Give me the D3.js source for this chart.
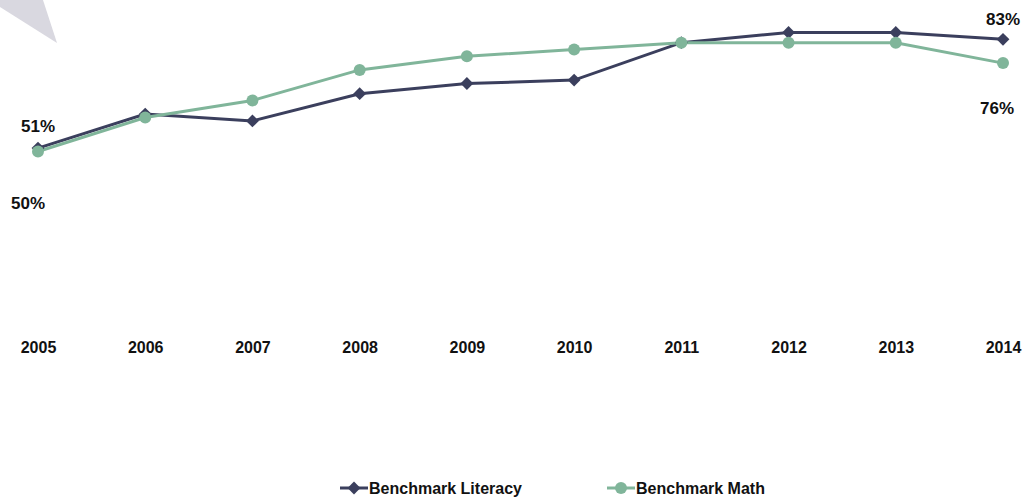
<!DOCTYPE html>
<html>
<head>
<meta charset="utf-8">
<script src="https://cdn.jsdelivr.net/npm/d3@7"></script>
<style>
  body { margin: 0; background: #fff; }
  text { font-family: "Liberation Sans", Arial, sans-serif; font-weight: bold; fill: #111; }
</style>
</head>
<body>
<div id="chart"></div>
<script>
// data
const years = ["2005","2006","2007","2008","2009","2010","2011","2012","2013","2014"];
const literacy = [51, 61, 59, 67, 70, 71, 82, 85, 85, 83];
const math = [50, 60, 65, 74, 78, 80, 82, 82, 82, 76];
const seriesNames = ["Benchmark Literacy", "Benchmark Math"];

const width = 1028, height = 497;
const litColor = "#3b3f5d", mathColor = "#80b59a";

const svg = d3.select("#chart").append("svg")
    .attr("width", width)
    .attr("height", height);

// decorative grey corner shape
svg.append("polygon")
    .attr("points", "0,0 43,0 57,43 0,7")
    .attr("fill", "#d9d8e0");

// scales
const x = d3.scalePoint()
    .domain(years)
    .range([38, 1003]);

const y = d3.scaleLinear()
    .domain([0, 100])
    .range([321.5, -18.5]);

// x axis, labels only
const xAxis = svg.append("g")
    .attr("transform", "translate(0,342)")
    .call(d3.axisBottom(x).tickSize(0).tickPadding(0));
xAxis.select(".domain").remove();
xAxis.selectAll("text")
    .attr("dy", "0.71em")
    .style("font-size", "16px")
    .style("font-family", "'Liberation Sans', Arial, sans-serif")
    .style("font-weight", "bold")
    .attr("fill", "#111");

const line = d3.line()
    .x((d, i) => x(years[i]))
    .y(d => y(d));

// literacy line
svg.append("path")
    .datum(literacy)
    .attr("fill", "none")
    .attr("stroke", litColor)
    .attr("stroke-width", 3)
    .attr("d", line);

// math line
svg.append("path")
    .datum(math)
    .attr("fill", "none")
    .attr("stroke", mathColor)
    .attr("stroke-width", 3)
    .attr("d", line);

const diamond = d3.symbol().type(d3.symbolDiamond2).size(105);

svg.append("g").selectAll("path")
    .data(literacy)
    .enter().append("path")
    .attr("d", diamond)
    .attr("transform", (d, i) => "translate(" + x(years[i]) + "," + y(d) + ")")
    .attr("fill", litColor);

svg.append("g").selectAll("circle")
    .data(math)
    .enter().append("circle")
    .attr("cx", (d, i) => x(years[i]))
    .attr("cy", d => y(d))
    .attr("r", 6)
    .attr("fill", mathColor);

// end labels
const last = years.length - 1;
const labels = [
    {v: literacy[0], x: x(years[0]), y: y(literacy[0]) - 16},
    {v: math[0], x: x(years[0]) - 10, y: y(math[0]) + 57},
    {v: literacy[last], x: x(years[last]), y: y(literacy[last]) - 14},
    {v: math[last], x: x(years[last]) - 6, y: y(math[last]) + 51}
];
svg.append("g").selectAll("text")
    .data(labels)
    .enter().append("text")
    .attr("x", d => d.x)
    .attr("y", d => d.y)
    .attr("text-anchor", "middle")
    .style("font-size", "17px")
    .text(d => d.v + "%");

// legend
const legend = svg.append("g").attr("transform", "translate(0,488)");
const legendItems = [
    {name: seriesNames[0], color: litColor, x0: 340, shape: "diamond"},
    {name: seriesNames[1], color: mathColor, x0: 607, shape: "circle"}
];
legendItems.forEach(function(it) {
    legend.append("line")
        .attr("x1", it.x0).attr("x2", it.x0 + 28)
        .attr("y1", 0).attr("y2", 0)
        .attr("stroke", it.color)
        .attr("stroke-width", 3);
    if (it.shape === "diamond") {
        legend.append("path")
            .attr("d", diamond)
            .attr("transform", "translate(" + (it.x0 + 14) + ",0)")
            .attr("fill", it.color);
    } else {
        legend.append("circle")
            .attr("cx", it.x0 + 14).attr("cy", 0).attr("r", 6)
            .attr("fill", it.color);
    }
    legend.append("text")
        .attr("x", it.x0 + 29)
        .attr("y", 0)
        .attr("dy", "0.35em")
        .style("font-size", "16px")
        .text(it.name);
});
</script>
</body>
</html>
